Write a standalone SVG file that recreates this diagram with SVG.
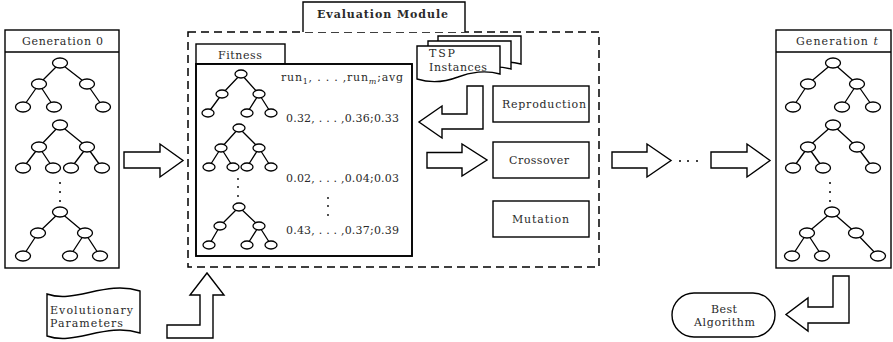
<svg xmlns="http://www.w3.org/2000/svg" xmlns:xlink="http://www.w3.org/1999/xlink" width="893" height="342" viewBox="0 0 893 342">
<style>
  .box{fill:#fff;stroke:#000;stroke-width:1.4}
  .thick{fill:#fff;stroke:#000;stroke-width:1.9}
  .dash{fill:none;stroke:#000;stroke-width:1.5;stroke-dasharray:8 5}
  .edge{stroke:#000;stroke-width:1.3;fill:none}
  .n{fill:#fff;stroke:#000;stroke-width:1.3}
  .dot{fill:#000}
  .arrow{fill:#fff;stroke:#000;stroke-width:1.4;stroke-linejoin:miter}
  .lbl{font-family:"DejaVu Serif","Liberation Serif",serif;font-size:11px;fill:#2a2a2a}
  .b{font-weight:bold}
</style>
<defs>
  <path id="doc" d="M417,46 H500 V74 C486,70 470,72 458,77 C445,82 430,83 417,79 Z"/>
</defs>

<g id="generation0">
  <rect class="box" x="5" y="30" width="114" height="238"/>
  <line class="edge" x1="5" y1="52" x2="119" y2="52"/>
  <text class="lbl" x="22" y="45" textLength="81" lengthAdjust="spacing">Generation 0</text>
  <g class="edge">
    <path d="M60,63 L39,84 M60,63 L87,84 M39,84 L23,107 M39,84 L54,107 M87,84 L103,107"/>
    <path d="M60,125 L39,147 M60,125 L87,147 M39,147 L23,168 M39,147 L53,168 M87,147 L71,168 M87,147 L102,168"/>
    <path d="M60,212 L38,233 M60,212 L85,233 M38,233 L23,256 M85,233 L70,256 M85,233 L100,256"/>
  </g>
  <g>
    <ellipse class="n" cx="60" cy="63" rx="7.5" ry="5"/><ellipse class="n" cx="39" cy="84" rx="7.5" ry="5"/><ellipse class="n" cx="87" cy="84" rx="7.5" ry="5"/>
    <ellipse class="n" cx="23" cy="107" rx="7.5" ry="5"/><ellipse class="n" cx="54" cy="107" rx="7.5" ry="5"/><ellipse class="n" cx="103" cy="107" rx="7.5" ry="5"/>
    <ellipse class="n" cx="60" cy="125" rx="7.5" ry="5"/><ellipse class="n" cx="39" cy="147" rx="7.5" ry="5"/><ellipse class="n" cx="87" cy="147" rx="7.5" ry="5"/>
    <ellipse class="n" cx="23" cy="168" rx="7.5" ry="5"/><ellipse class="n" cx="53" cy="168" rx="7.5" ry="5"/><ellipse class="n" cx="71" cy="168" rx="7.5" ry="5"/><ellipse class="n" cx="102" cy="168" rx="7.5" ry="5"/>
    <ellipse class="n" cx="60" cy="212" rx="7.5" ry="5"/><ellipse class="n" cx="38" cy="233" rx="7.5" ry="5"/><ellipse class="n" cx="85" cy="233" rx="7.5" ry="5"/>
    <ellipse class="n" cx="23" cy="256" rx="7.5" ry="5"/><ellipse class="n" cx="70" cy="256" rx="7.5" ry="5"/><ellipse class="n" cx="100" cy="256" rx="7.5" ry="5"/>
  </g>
  <circle class="dot" cx="60" cy="183" r="1"/><circle class="dot" cx="60" cy="192" r="1"/><circle class="dot" cx="60" cy="201" r="1"/>
</g>

<g id="evaluation-module">
  <rect class="dash" x="188" y="32" width="411" height="235"/>
  <path d="M303,32 V2 H465 V32" fill="#fff" stroke="#000" stroke-width="1.4"/>
  <text class="lbl b" x="317" y="18" textLength="131" lengthAdjust="spacing">Evaluation Module</text>
</g>

<g id="fitness">
  <rect class="box" x="196" y="44" width="89" height="20"/>
  <text class="lbl" x="218" y="59" textLength="44" lengthAdjust="spacing">Fitness</text>
  <rect class="thick" x="196" y="64" width="216" height="192"/>
  <g class="edge">
    <path d="M241,74 L222,94 M241,74 L259,94 M222,94 L208,113 M259,94 L247,113 M259,94 L271,113"/>
    <path d="M239,128 L221,148 M239,128 L259,148 M221,148 L209,167 M221,148 L233,167 M259,148 L247,167 M259,148 L271,167"/>
    <path d="M239,207 L220,226 M239,207 L259,226 M220,226 L209,245 M259,226 L247,245 M259,226 L271,245"/>
  </g>
  <g>
    <ellipse class="n" cx="241" cy="74" rx="6" ry="4"/><ellipse class="n" cx="222" cy="94" rx="6" ry="4"/><ellipse class="n" cx="259" cy="94" rx="6" ry="4"/>
    <ellipse class="n" cx="208" cy="113" rx="6" ry="4"/><ellipse class="n" cx="247" cy="113" rx="6" ry="4"/><ellipse class="n" cx="271" cy="113" rx="6" ry="4"/>
    <ellipse class="n" cx="239" cy="128" rx="6" ry="4"/><ellipse class="n" cx="221" cy="148" rx="6" ry="4"/><ellipse class="n" cx="259" cy="148" rx="6" ry="4"/>
    <ellipse class="n" cx="209" cy="167" rx="6" ry="4"/><ellipse class="n" cx="233" cy="167" rx="6" ry="4"/><ellipse class="n" cx="247" cy="167" rx="6" ry="4"/><ellipse class="n" cx="271" cy="167" rx="6" ry="4"/>
    <ellipse class="n" cx="239" cy="207" rx="6" ry="4"/><ellipse class="n" cx="220" cy="226" rx="6" ry="4"/><ellipse class="n" cx="259" cy="226" rx="6" ry="4"/>
    <ellipse class="n" cx="209" cy="245" rx="6" ry="4"/><ellipse class="n" cx="247" cy="245" rx="6" ry="4"/><ellipse class="n" cx="271" cy="245" rx="6" ry="4"/>
  </g>
  <circle class="dot" cx="238" cy="179" r="0.9"/><circle class="dot" cx="238" cy="187" r="0.9"/><circle class="dot" cx="238" cy="196" r="0.9"/>
  <text class="lbl" x="281" y="81" textLength="122" lengthAdjust="spacing">run<tspan dy="3" font-size="8">1</tspan><tspan dy="-3">, . . . ,run</tspan><tspan dy="3" font-size="8" font-style="italic">m</tspan><tspan dy="-3">;avg</tspan></text>
  <text class="lbl" x="286" y="122" textLength="113" lengthAdjust="spacing">0.32, . . . ,0.36;0.33</text>
  <text class="lbl" x="286" y="182" textLength="113" lengthAdjust="spacing">0.02, . . . ,0.04;0.03</text>
  <circle class="dot" cx="328" cy="198" r="0.9"/><circle class="dot" cx="328" cy="206" r="0.9"/><circle class="dot" cx="328" cy="215" r="0.9"/>
  <text class="lbl" x="286" y="234" textLength="113" lengthAdjust="spacing">0.43, . . . ,0.37;0.39</text>
</g>

<g id="tsp-instances">
  <use xlink:href="#doc" href="#doc" class="box" transform="translate(21,-10)"/>
  <use xlink:href="#doc" href="#doc" class="box" transform="translate(11,-5)"/>
  <use xlink:href="#doc" href="#doc" class="box"/>
  <text class="lbl" x="429" y="57" textLength="26" lengthAdjust="spacing">TSP</text>
  <text class="lbl" x="429" y="71" textLength="58" lengthAdjust="spacing">Instances</text>
</g>

<g id="reproduction">
  <rect class="box" x="493" y="86" width="96" height="36"/>
  <text class="lbl" x="502" y="108" textLength="84" lengthAdjust="spacing">Reproduction</text>
</g>
<g id="crossover">
  <rect class="box" x="493" y="142" width="96" height="36"/>
  <text class="lbl" x="509" y="164" textLength="60" lengthAdjust="spacing">Crossover</text>
</g>
<g id="mutation">
  <rect class="box" x="493" y="201" width="96" height="36"/>
  <text class="lbl" x="512" y="223" textLength="57" lengthAdjust="spacing">Mutation</text>
</g>

<g id="generation-t">
  <rect class="box" x="776" y="30" width="115" height="238"/>
  <line class="edge" x1="776" y1="52" x2="891" y2="52"/>
  <text class="lbl" x="796" y="45" textLength="82" lengthAdjust="spacing">Generation <tspan font-style="italic">t</tspan></text>
  <g class="edge">
    <path d="M833,63 L808,84 M833,63 L857,84 M808,84 L793,107 M857,84 L842,107 M857,84 L873,107"/>
    <path d="M833,125 L808,147 M833,125 L857,147 M808,147 L793,168 M808,147 L823,168 M857,147 L873,168"/>
    <path d="M832,212 L807,233 M832,212 L856,233 M807,233 L792,256 M807,233 L822,256 M856,233 L878,256"/>
  </g>
  <g>
    <ellipse class="n" cx="833" cy="63" rx="7.5" ry="5"/><ellipse class="n" cx="808" cy="84" rx="7.5" ry="5"/><ellipse class="n" cx="857" cy="84" rx="7.5" ry="5"/>
    <ellipse class="n" cx="793" cy="107" rx="7.5" ry="5"/><ellipse class="n" cx="842" cy="107" rx="7.5" ry="5"/><ellipse class="n" cx="873" cy="107" rx="7.5" ry="5"/>
    <ellipse class="n" cx="833" cy="125" rx="7.5" ry="5"/><ellipse class="n" cx="808" cy="147" rx="7.5" ry="5"/><ellipse class="n" cx="857" cy="147" rx="7.5" ry="5"/>
    <ellipse class="n" cx="793" cy="168" rx="7.5" ry="5"/><ellipse class="n" cx="823" cy="168" rx="7.5" ry="5"/><ellipse class="n" cx="873" cy="168" rx="7.5" ry="5"/>
    <ellipse class="n" cx="832" cy="212" rx="7.5" ry="5"/><ellipse class="n" cx="807" cy="233" rx="7.5" ry="5"/><ellipse class="n" cx="856" cy="233" rx="7.5" ry="5"/>
    <ellipse class="n" cx="792" cy="256" rx="7.5" ry="5"/><ellipse class="n" cx="822" cy="256" rx="7.5" ry="5"/><ellipse class="n" cx="878" cy="256" rx="7.5" ry="5"/>
  </g>
  <circle class="dot" cx="830" cy="183" r="1"/><circle class="dot" cx="830" cy="192" r="1"/><circle class="dot" cx="830" cy="201" r="1"/>
</g>

<g id="evolutionary-parameters">
  <path class="box" d="M47,294 C75,304 105,280 140,291 V333 C105,322 75,346 47,336 Z"/>
  <text class="lbl" x="50" y="314" textLength="83" lengthAdjust="spacing">Evolutionary</text>
  <text class="lbl" x="50" y="327" textLength="73" lengthAdjust="spacing">Parameters</text>
</g>

<g id="best-algorithm">
  <rect class="box" x="672" y="293" width="103" height="44" rx="22" ry="22"/>
  <text class="lbl" x="711" y="313" textLength="26" lengthAdjust="spacing">Best</text>
  <text class="lbl" x="694" y="326" textLength="61" lengthAdjust="spacing">Algorithm</text>
</g>

<g id="connectors">
  <polygon class="arrow" points="124,152 160,152 160,144 183,160.5 160,177 160,168 124,168"/>
  <polygon class="arrow" points="467,86 483,86 483,129 442,129 442,138 419,122 442,106 442,114 467,114"/>
  <polygon class="arrow" points="427,152.5 462,152.5 462,144 487,160 462,176 462,168 427,168"/>
  <polygon class="arrow" points="612,152 647,152 647,144 671,160.5 647,177 647,168 612,168"/>
  <circle class="dot" cx="680" cy="161" r="1"/><circle class="dot" cx="688" cy="161" r="1"/><circle class="dot" cx="697" cy="161" r="1"/>
  <polygon class="arrow" points="711,152 747,152 747,144 770,160.5 747,177 747,168 711,168"/>
  <polygon class="arrow" points="167,325 200,325 200,295 190,295 207,273 224,295 213,295 213,338 167,338"/>
  <polygon class="arrow" points="833,276 849,276 849,323 808,323 808,331 786,314.5 808,298 808,307 833,307"/>
</g>
</svg>
